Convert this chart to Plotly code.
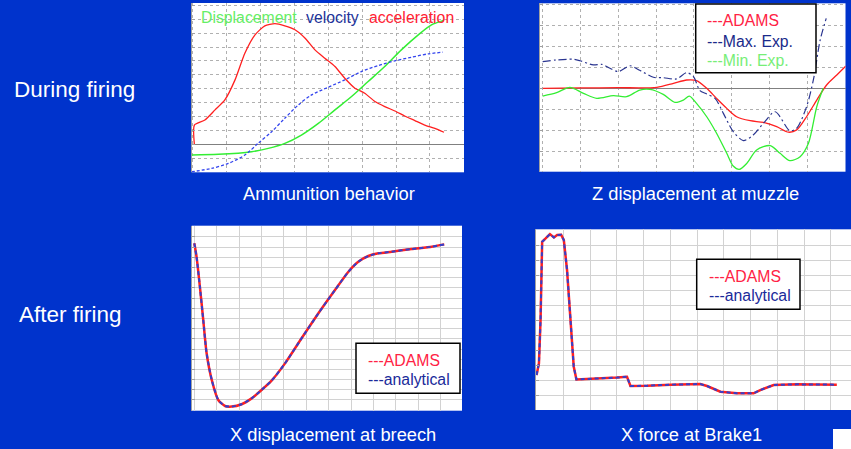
import plotly.graph_objects as go

W, H = 851, 449
BG = "#0033cc"
FONT = "Arial, Liberation Sans, sans-serif"

# ---------------- Panel 1: Ammunition behavior ----------------
acc_x = [0.1, 0.1, 0.41, 0.71, 1.0, 1.3, 1.59, 1.89, 2.18, 2.48, 2.77, 3.07, 3.37, 3.66, 3.95,
         4.25, 4.54, 4.84, 5.13, 5.43, 5.72, 6.02, 6.31, 6.61, 6.9, 7.2, 7.47]
acc_y = [0, 1.39, 1.75, 2.48, 3.2, 4.64, 6.56, 7.88, 8.53, 8.68, 8.53, 8.25, 7.64, 6.8, 6.2,
         5.6, 4.76, 4.04, 3.68, 3.08, 2.72, 2.4, 2.04, 1.71, 1.39, 1.15, 0.87]
disp_x = [0.02, 0.81, 1.79, 2.28, 2.77, 3.26, 3.76, 4.25, 4.74, 5.23, 5.72, 6.21, 6.71, 7.1, 7.47]
disp_y = [-0.77, -0.72, -0.53, -0.29, 0.07, 0.67, 1.51, 2.48, 3.44, 4.52, 5.6, 6.8, 7.88, 8.6, 8.92]
vel_x = [0.02, 0.61, 1.1, 1.59, 1.98, 2.38, 2.77, 3.17, 3.56, 4.05, 4.54, 5.03, 5.53, 6.02, 6.51, 7.0, 7.44]
vel_y = [-1.97, -1.73, -1.37, -0.77, 0.07, 0.91, 1.88, 2.84, 3.56, 4.11, 4.64, 5.24, 5.67, 6.01, 6.27, 6.51, 6.63]

# ---------------- Panel 2: Z displacement at muzzle ----------------
zad_x = [0, 1, 2, 3.02, 3.46, 3.81, 4.07, 4.34, 4.6, 4.87, 5.13, 5.49, 5.84, 6.19, 6.5, 6.72,
         6.98, 7.25, 7.51, 7.78, 8.02]
zad_y = [0, 0.02, 0.03, 0.05, 0.24, 0.4, 0.37, 0, -0.48, -0.96, -1.36, -1.55, -1.63, -1.83, -2.1, -1.99,
         -1.36, -0.56, 0.16, 0.64, 1.07]
zmin_x = [0, 0.37, 0.72, 1.08, 1.43, 1.87, 2.22, 2.57, 2.84, 3.19, 3.5, 3.72, 3.88, 4.07, 4.34, 4.6,
          4.87, 5.04, 5.2, 5.4, 5.66, 6.02, 6.28, 6.54, 6.81, 7.03, 7.25, 7.42]
zmin_y = [-0.37, -0.21, 0.05, -0.24, -0.48, -0.35, -0.4, -0.08, -0.05, -0.29, -0.67, -0.56, -0.37, -0.72,
          -1.36, -2.15, -3.11, -3.72, -3.88, -3.59, -2.95, -2.74, -3.11, -3.46, -3.27, -2.63, -0.88, 0]
zmax_x = [0, 0.37, 0.81, 0.99, 1.34, 1.56, 1.78, 2.0, 2.31, 2.58, 2.93, 3.19, 3.54, 3.81, 3.99, 4.16,
          4.34, 4.56, 4.78, 5.04, 5.31, 5.57, 5.84, 6.15, 6.54, 6.72, 6.98, 7.16, 7.34, 7.5]
zmax_y = [1.28, 1.36, 1.39, 1.32, 1.12, 1.15, 0.96, 0.8, 1.08, 0.85, 0.53, 0.51, 0.45, 0.75, 0.56, -0.11,
          -0.27, -0.48, -1.2, -2.07, -2.5, -2.23, -1.67, -1.12, -2.03, -1.91, -0.88, 0.4, 2.31, 3.35]

# ---------------- Panel 3: X displacement at breech ----------------
br_x = [0, 0.1, 0.25, 0.4, 0.55, 0.78, 1.07, 1.37, 1.67, 2.11, 2.56, 3.0, 3.45, 4.05, 4.79, 5.54,
        6.28, 6.88, 7.32, 7.77, 8.22, 8.81, 9.7, 10.6, 11.16]
br_y = [15.36, 14.05, 11.1, 7.84, 4.58, 1.96, 0, -0.59, -0.65, -0.42, 0.16, 0.98, 1.9, 3.59, 6.05, 8.5,
        10.78, 12.58, 13.56, 14.12, 14.38, 14.54, 14.8, 15.03, 15.26]

# ---------------- Panel 4: X force at Brake1 ----------------
fb_x = [0, 0.09, 0.15, 0.21, 0.34, 0.5, 0.65, 0.77, 0.92, 1.02, 1.14, 1.27, 1.39, 1.49, 2.26, 3.01,
        3.38, 3.51, 4.13, 5.0, 6.12, 6.37, 6.87, 7.49, 8.11, 8.36, 8.86, 9.73, 11.22]
fb_y = [1.33, 2.11, 5, 10.22, 10.44, 10.73, 10.51, 10.67, 10.69, 10.33, 8.33, 5, 1.89, 1.04, 1.09, 1.16,
        1.22, 0.6, 0.62, 0.69, 0.73, 0.6, 0.22, 0.11, 0.11, 0.33, 0.67, 0.71, 0.69]

RED = "#ff2020"
GREEN = "#33ee33"
BLUE = "#3344ee"
NAVY = "#2a3590"

fig = go.Figure()

def add(x, y, ax, color, width, dash="solid", shape="spline", smoothing=0.8):
    line = dict(color=color, width=width, dash=dash, shape=shape)
    if shape == "spline":
        line["smoothing"] = smoothing
    fig.add_trace(go.Scatter(x=x, y=y, xaxis="x" + ax, yaxis="y" + ax, mode="lines",
                             line=line, showlegend=False, hoverinfo="skip"))

add(acc_x, acc_y, "", RED, 1.3, smoothing=0.6)
add(disp_x, disp_y, "", GREEN, 1.5)
add(vel_x, vel_y, "", BLUE, 1.3, "3px,2px")

add(zad_x, zad_y, "2", RED, 1.3)
add(zmin_x, zmin_y, "2", GREEN, 1.3)
add(zmax_x, zmax_y, "2", NAVY, 1.2, "8px,3px,2px,3px")

add(br_x, br_y, "3", RED, 2.5, smoothing=0.6)
add(br_x, br_y, "3", "#3340cc", 2, "4px,3px", smoothing=0.6)

add(fb_x, fb_y, "4", RED, 2.5, shape="linear")
add(fb_x, fb_y, "4", "#3340cc", 2, "4px,3px", shape="linear")


def px(v):
    return v / W


def py(v):
    return 1 - v / H


def axes(x0, x1, y0, y1, xr, yr, xt0, dotted, zero):
    gridcolor = "#b0b0b0" if dotted else "#d2d2d2"
    dash = "dot" if dotted else "solid"
    xa = dict(domain=[px(x0), px(x1)], range=xr, tick0=xt0, dtick=1, showticklabels=False,
              showgrid=True, gridcolor=gridcolor, griddash=dash, gridwidth=1,
              zeroline=False, showline=False, ticks="")
    ya = dict(domain=[py(y1), py(y0)], range=yr, tick0=0, dtick=1, showticklabels=False,
              showgrid=True, gridcolor=gridcolor, griddash=dash, gridwidth=1,
              zeroline=zero, zerolinecolor="#808080", zerolinewidth=1,
              showline=True, linecolor="#a0a0a0", linewidth=1, ticks="inside", ticklen=3,
              tickcolor="#a0a0a0")
    return xa, ya

x1a, y1a = axes(191.5, 464, 3, 172.3, [0.015, 8.06], [-2.01, 10.17], 0.053, True, True)
x2a, y2a = axes(540, 845.5, 3.3, 171.7, [-0.07, 8.01], [-3.99, 4.07], 0, True, True)
x3a, y3a = axes(191.7, 462, 225.7, 410.7, [-0.116, 11.95], [-1.05, 17.09], 0, False, False)
x4a, y4a = axes(536, 851, 229.3, 410, [-0.02, 11.75], [-1.0, 11.05], 0, False, False)
y1a["anchor"] = "x"; x1a["anchor"] = "y"
y2a["anchor"] = "x2"; x2a["anchor"] = "y2"
y3a["anchor"] = "x3"; x3a["anchor"] = "y3"
y4a["anchor"] = "x4"; x4a["anchor"] = "y4"

shapes = []
# legend boxes
for (bx0, by0, bx1, by1) in [(695.7, 4, 816, 72.7), (356, 343.3, 460, 393.3), (696.7, 259.3, 800, 309.3)]:
    shapes.append(dict(type="rect", xref="paper", yref="paper", x0=px(bx0), x1=px(bx1),
                       y0=py(by1), y1=py(by0), fillcolor="white",
                       line=dict(color="black", width=1.5), layer="above"))
# white corner patch
shapes.append(dict(type="rect", xref="paper", yref="paper", x0=px(833), x1=1, y0=0, y1=py(429),
                   fillcolor="white", line=dict(width=0), layer="above"))

annotations = []

def txt(s, x, y, size, color, anchor="left"):
    annotations.append(dict(text=s, x=px(x), y=py(y), xref="paper", yref="paper", showarrow=False,
                            xanchor=anchor, yanchor="middle",
                            font=dict(family=FONT, size=size, color=color)))

txt("During firing", 12, 89.5, 22.5, "white")
txt("After firing", 17, 314, 22.5, "white")
txt("Ammunition behavior", 241, 193, 18.3, "white")
txt("Z displacement at muzzle", 589.5, 193, 18.3, "white")
txt("X displacement at breech", 227.5, 434, 18.3, "white")
txt("X force at Brake1", 619, 434, 18.3, "white")

txt("Displacement", 198.5, 17.5, 15.8, "#66ee66")
txt("velocity", 304, 17.5, 15.8, "#223399")
txt("acceleration", 366.5, 17.5, 15.8, "#ff2233")

txt("---ADAMS", 705, 20.5, 15.8, "#ff2244")
txt("---Max. Exp.", 705, 41, 15.8, "#1a2a8a")
txt("---Min. Exp.", 705, 60, 15.8, "#77ee77")

txt("---ADAMS", 366, 360, 15.8, "#ff2244")
txt("---analytical", 366, 379, 15.8, "#1a2a9a")

txt("---ADAMS", 706.5, 276, 15.8, "#ff2244")
txt("---analytical", 706.5, 295.5, 15.8, "#1a2a9a")

fig.update_layout(
    width=W, height=H, autosize=False,
    margin=dict(l=0, r=0, t=0, b=0, pad=0),
    paper_bgcolor=BG, plot_bgcolor="white",
    xaxis=x1a, yaxis=y1a, xaxis2=x2a, yaxis2=y2a,
    xaxis3=x3a, yaxis3=y3a, xaxis4=x4a, yaxis4=y4a,
    shapes=shapes, annotations=annotations,
    font=dict(family=FONT),
)

fig.write_html("out.html")
